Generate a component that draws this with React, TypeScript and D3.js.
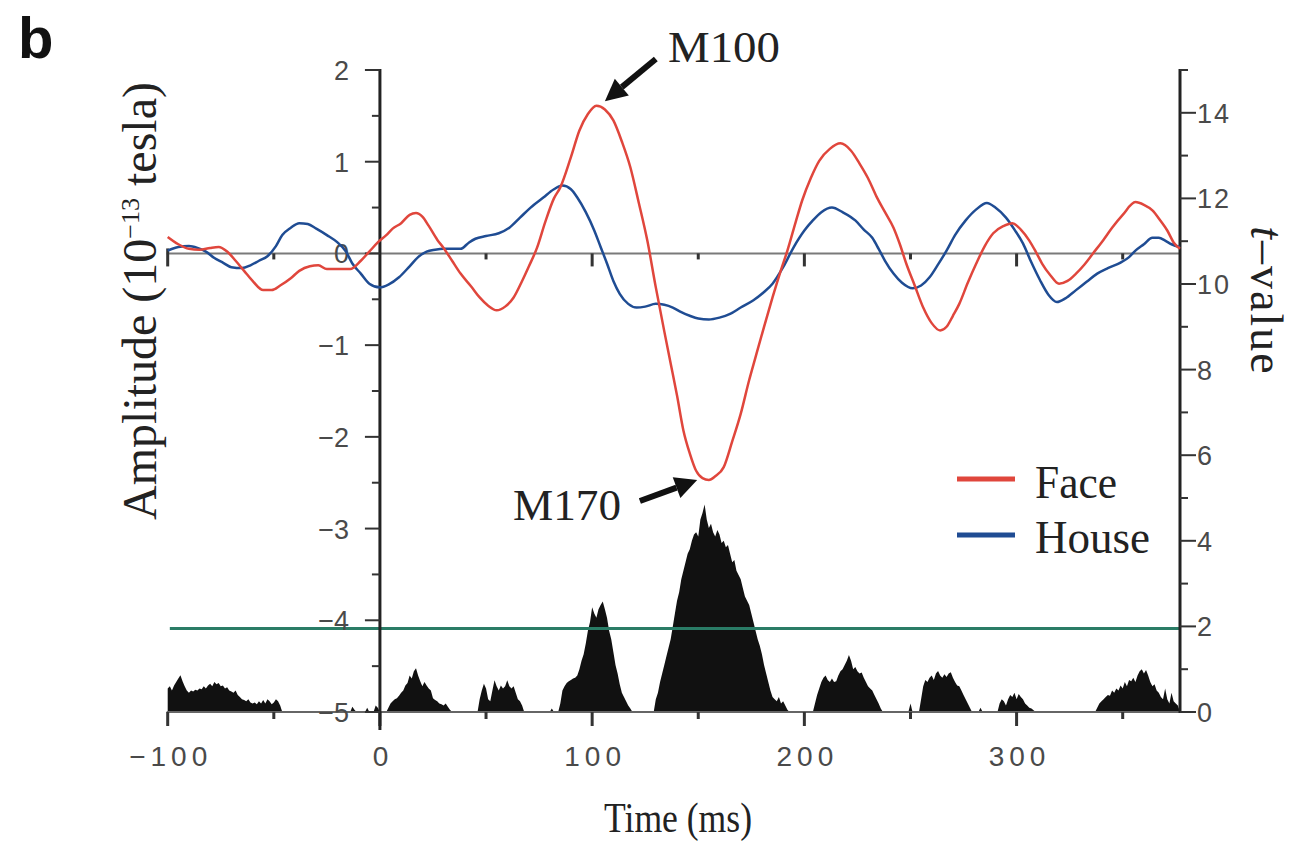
import React from "react";
import * as d3 from "d3";

const W = 1299;
const H = 845;

// evoked field, [ms, amplitude in 1e-13 T]
const faceWave: [number, number][] = [
  [-100, 0.18], [-95, 0.1], [-90, 0.05], [-85, 0.04], [-80, 0.06], [-76, 0.07], [-72, 0.02],
  [-68, -0.08], [-64, -0.19], [-60, -0.3], [-55, -0.4], [-51, -0.4], [-47, -0.35], [-42, -0.27],
  [-38, -0.19], [-33, -0.14], [-29, -0.13], [-25, -0.17], [-20, -0.17], [-14, -0.17], [-9, -0.08],
  [-5, 0.02], [-1, 0.12], [3, 0.2], [6, 0.27], [10, 0.33], [14, 0.42], [17, 0.44], [20, 0.4],
  [23, 0.3], [27, 0.15], [30, 0.06], [34, -0.08], [38, -0.22], [43, -0.36], [47, -0.48],
  [51, -0.57], [55, -0.62], [59, -0.58], [63, -0.48], [67, -0.3], [70, -0.15], [74, 0.06],
  [78, 0.35], [82, 0.6], [85, 0.72], [90, 1.05], [94, 1.34], [98, 1.52], [102, 1.61], [106, 1.57],
  [110, 1.45], [114, 1.22], [118, 0.94], [122, 0.55], [126, 0.14], [130, -0.37], [134, -0.85],
  [137, -1.2], [140, -1.55], [143, -1.93], [146, -2.18], [149, -2.37], [152, -2.45], [155, -2.47],
  [158, -2.43], [162, -2.33], [166, -2.05], [170, -1.75], [174, -1.38], [177, -1.13], [181, -0.8],
  [185, -0.48], [189, -0.18], [192, 0.03], [196, 0.35], [199, 0.58], [203, 0.82], [207, 1.01],
  [212, 1.14], [217, 1.2], [222, 1.12], [226, 0.98], [230, 0.82], [234, 0.62], [238, 0.45],
  [242, 0.28], [245, 0.1], [248, -0.11], [252, -0.35], [256, -0.59], [260, -0.76], [264, -0.84],
  [267, -0.8], [270, -0.68], [273, -0.55], [277, -0.32], [281, -0.11], [285, 0.08], [289, 0.22],
  [294, 0.3], [298, 0.33], [302, 0.26], [306, 0.14], [309, 0.02], [312, -0.11], [316, -0.24],
  [320, -0.33], [324, -0.3], [328, -0.22], [332, -0.12], [336, 0.0], [341, 0.15], [345, 0.28],
  [350, 0.42], [356, 0.56], [360, 0.53], [364, 0.47], [368, 0.35], [371, 0.25], [374, 0.12],
  [377, 0.05],
];

const houseWave: [number, number][] = [
  [-100, 0.03], [-95, 0.07], [-90, 0.08], [-86, 0.06], [-82, 0.02], [-78, -0.05], [-74, -0.1],
  [-70, -0.15], [-65, -0.16], [-61, -0.13], [-57, -0.08], [-53, -0.03], [-49, 0.08], [-46, 0.2],
  [-42, 0.28], [-38, 0.33], [-34, 0.32], [-30, 0.27], [-25, 0.2], [-20, 0.12], [-16, 0.02],
  [-13, -0.11], [-9, -0.22], [-5, -0.33], [0, -0.37], [4, -0.34], [9, -0.26], [14, -0.14],
  [18, -0.04], [22, 0.02], [26, 0.04], [30, 0.05], [34, 0.05], [38, 0.05], [42, 0.12], [45, 0.16],
  [50, 0.19], [56, 0.22], [61, 0.28], [66, 0.39], [71, 0.5], [77, 0.61], [82, 0.7], [86, 0.74],
  [90, 0.7], [93, 0.61], [97, 0.45], [101, 0.25], [104, 0.07], [107, -0.11], [110, -0.3],
  [113, -0.44], [117, -0.55], [121, -0.59], [125, -0.58], [130, -0.55], [134, -0.56], [138, -0.59],
  [142, -0.64], [146, -0.68], [150, -0.71], [155, -0.72], [160, -0.7], [165, -0.66], [170, -0.59],
  [176, -0.51], [181, -0.42], [185, -0.33], [190, -0.15], [195, 0.07], [200, 0.25], [204, 0.36],
  [208, 0.45], [213, 0.5], [218, 0.45], [224, 0.36], [228, 0.26], [232, 0.17], [235, 0.05],
  [238, -0.08], [242, -0.22], [246, -0.32], [251, -0.38], [255, -0.35], [259, -0.26], [263, -0.12],
  [267, 0.03], [271, 0.2], [276, 0.36], [281, 0.48], [286, 0.55], [290, 0.5], [295, 0.39],
  [299, 0.26], [303, 0.11], [307, -0.1], [311, -0.29], [315, -0.45], [319, -0.53], [323, -0.49],
  [328, -0.4], [333, -0.31], [338, -0.22], [343, -0.16], [349, -0.1], [353, -0.04], [356, 0.03],
  [360, 0.1], [364, 0.17], [367, 0.17], [370, 0.14], [373, 0.1], [377, 0.07],
];

// t-value clusters: first ms of each, then one value per ms
const tStarts = [-100, -14, -7, -3, 3, 46, 80, 129, 204, 249, 254, 282, 291, 337];
const tClusters: number[][] = [
  [0.55, 0.6, 0.5, 0.62, 0.7, 0.78, 0.86, 0.72, 0.6, 0.5, 0.45, 0.5, 0.48, 0.52, 0.5, 0.55, 0.53,
    0.6, 0.55, 0.62, 0.66, 0.6, 0.7, 0.65, 0.68, 0.6, 0.62, 0.55, 0.58, 0.5, 0.48, 0.45, 0.5, 0.4,
    0.35, 0.3, 0.28, 0.25, 0.3, 0.22, 0.2, 0.22, 0.18, 0.25, 0.2, 0.28, 0.2, 0.3, 0.25, 0.18, 0.22,
    0.3, 0.25, 0.15, 0],
  [0, 0.12, 0.05, 0],
  [0, 0.1, 0],
  [0, 0.15, 0.1, 0],
  [0, 0.1, 0.2, 0.25, 0.3, 0.32, 0.38, 0.45, 0.5, 0.62, 0.68, 0.85, 0.78, 0.95, 1.02, 0.85, 0.72,
    0.6, 0.7, 0.62, 0.55, 0.5, 0.32, 0.28, 0.25, 0.2, 0.18, 0.15, 0.2, 0.12, 0.05, 0],
  [0, 0.3, 0.5, 0.66, 0.55, 0.3, 0.25, 0.5, 0.74, 0.6, 0.5, 0.62, 0.55, 0.6, 0.74, 0.6, 0.55, 0.6,
    0.45, 0.3, 0.25, 0.15, 0],
  [0, 0.08, 0, 0, 0, 0.2, 0.5, 0.6, 0.68, 0.72, 0.75, 0.78, 0.8, 0.85, 1.0, 1.2, 1.35, 1.6, 1.9,
    2.1, 2.45, 2.3, 2.2, 2.4, 2.5, 2.58, 2.4, 2.2, 1.9, 1.7, 1.4, 1.1, 0.9, 0.65, 0.45, 0.35, 0.25,
    0.15, 0.08, 0],
  [0, 0.3, 0.45, 0.7, 0.9, 1.1, 1.3, 1.5, 1.7, 2.0, 2.3, 2.6, 2.8, 3.1, 3.3, 3.5, 3.7, 3.8, 4.0,
    4.15, 4.2, 4.1, 4.5, 4.65, 4.85, 4.5, 4.3, 4.4, 4.2, 4.1, 4.25, 4.15, 3.95, 4.0, 3.85, 3.9, 3.7,
    3.5, 3.55, 3.3, 3.2, 3.1, 2.9, 2.7, 2.6, 2.5, 2.3, 2.1, 1.9, 1.7, 1.55, 1.35, 1.1, 0.9, 0.7,
    0.5, 0.35, 0.3, 0.25, 0.35, 0.2, 0.25, 0.15, 0.05, 0],
  [0, 0.2, 0.4, 0.55, 0.7, 0.8, 0.85, 0.75, 0.7, 0.78, 0.7, 0.72, 0.85, 0.95, 1.0, 1.1, 1.2, 1.33,
    1.2, 1.0, 1.05, 0.95, 0.9, 0.92, 0.8, 0.7, 0.6, 0.55, 0.5, 0.4, 0.3, 0.2, 0.08, 0],
  [0, 0.2, 0],
  [0, 0.3, 0.6, 0.75, 0.7, 0.8, 0.85, 0.75, 0.9, 0.96, 0.85, 0.8, 0.88, 0.82, 0.9, 0.93, 0.8,
    0.7, 0.62, 0.6, 0.5, 0.4, 0.3, 0.2, 0.1, 0],
  [0, 0.1, 0],
  [0, 0.2, 0.3, 0.25, 0.15, 0.3, 0.4, 0.35, 0.45, 0.3, 0.42, 0.35, 0.3, 0.2, 0.15, 0.1, 0.08,
    0.04, 0],
  [0, 0.1, 0.2, 0.25, 0.3, 0.35, 0.4, 0.38, 0.5, 0.45, 0.55, 0.5, 0.62, 0.55, 0.7, 0.6, 0.75,
    0.72, 0.8, 0.7, 0.85, 0.95, 1.0, 0.9, 0.98, 0.85, 0.7, 0.6, 0.65, 0.5, 0.45, 0.35, 0.3, 0.55,
    0.3, 0.2, 0.45, 0.25, 0.2, 0.15, 0],
];
const tThreshold = 1.95;

const timeTicks = [-100, 0, 100, 200, 300];
const timeMinorTicks = [-50, 50, 150, 250, 350];
const ampTicks = [2, 1, 0, -1, -2, -3, -4, -5];
const ampMinorTicks = [1.5, 0.5, -0.5, -1.5, -2.5, -3.5, -4.5];
const tTicks = [0, 2, 4, 6, 8, 10, 12, 14];
const tMinorTicks = [1, 3, 5, 7, 9, 11, 13, 15];

const legendItems = [
  { label: "Face", color: "#e0463c" },
  { label: "House", color: "#1f4c93" },
];

// arrows in data units: [tail ms, tail amp, tip ms, tip amp]
const annotations = [
  { label: "M100", tail: [130, 2.12], tip: [106, 1.66], tx: 668, ty: 62, len: 112 },
  { label: "M170", tail: [122.5, -2.7], tip: [149.5, -2.47], tx: 513, ty: 520, len: 108 },
];

const SERIF = "'Liberation Serif', 'Times New Roman', serif";
const SANS = "'Liberation Sans', Arial, sans-serif";
const TICK_COLOR = "#4a4a4a";

const x = d3.scaleLinear().domain([-100, 377]).range([167.7, 1180]);
const yA = d3.scaleLinear().domain([-5, 2]).range([712, 70]);
const yT = d3.scaleLinear().domain([0, 15]).range([712, 70]);

const waveLine = d3
  .line<[number, number]>()
  .x((d) => x(d[0]))
  .y((d) => yA(d[1]))
  .curve(d3.curveMonotoneX);

const tArea = d3
  .area<[number, number]>()
  .x((d) => x(d[0]))
  .y0(yT(0))
  .y1((d) => yT(d[1]));

function arrowHead(x0: number, y0: number, x1: number, y1: number) {
  const dx = x1 - x0;
  const dy = y1 - y0;
  const L = Math.hypot(dx, dy);
  const ux = dx / L;
  const uy = dy / L;
  const hl = 22;
  const hw = 11;
  const bx = x1 - ux * hl;
  const by = y1 - uy * hl;
  return {
    shaftEnd: [bx, by],
    points: `${x1},${y1} ${bx - uy * hw},${by + ux * hw} ${bx + uy * hw},${by - ux * hw}`,
  };
}

export default function App() {
  const zeroY = yA(0);
  const axisBottom = yT(0);
  const leftX = x(0);
  const rightX = x(377);

  return (
    <svg
      width={W}
      height={H}
      style={{ position: "absolute", left: 0, top: 0, background: "#fff" }}
    >
      {/* panel letter */}
      <text x={18} y={58} fontFamily={SANS} fontWeight="bold" fontSize={58} fill="#111">
        b
      </text>

      {/* t-value histogram */}
      {tClusters.map((vals, i) => (
        <path
          key={i}
          d={tArea(vals.map((v, j) => [tStarts[i] + j, v] as [number, number])) || ""}
          fill="#111"
        />
      ))}

      {/* threshold */}
      <line
        x1={x(-99)}
        x2={rightX}
        y1={yT(tThreshold)}
        y2={yT(tThreshold)}
        stroke="#2a7c66"
        strokeWidth={3}
      />

      {/* bottom time axis */}
      <line x1={x(-100) - 1} x2={rightX} y1={axisBottom} y2={axisBottom} stroke="#666" strokeWidth={2} />
      {timeTicks.map((t) => (
        <line key={t} x1={x(t)} x2={x(t)} y1={axisBottom} y2={axisBottom + 14} stroke="#333" strokeWidth={3} />
      ))}
      {timeMinorTicks.map((t) => (
        <line key={t} x1={x(t)} x2={x(t)} y1={axisBottom} y2={axisBottom + 7} stroke="#333" strokeWidth={3} />
      ))}
      {timeTicks.map((t) => (
        <text
          key={t}
          x={x(t) + 3}
          y={766}
          textAnchor="middle"
          fontFamily={SANS}
          fontSize={28}
          letterSpacing={5}
          fill={TICK_COLOR}
        >
          {t < 0 ? `\u2212${-t}` : t}
        </text>
      ))}

      {/* zero line with ticks */}
      <line x1={x(-100) - 1} x2={rightX} y1={zeroY} y2={zeroY} stroke="#7a7a7a" strokeWidth={2} />
      <line x1={x(-100)} x2={x(-100)} y1={zeroY - 5} y2={zeroY + 13} stroke="#333" strokeWidth={3} />
      {timeTicks.filter((t) => t > 0).map((t) => (
        <line key={t} x1={x(t)} x2={x(t)} y1={zeroY} y2={zeroY + 13} stroke="#333" strokeWidth={3} />
      ))}
      {timeMinorTicks.map((t) => (
        <line key={t} x1={x(t)} x2={x(t)} y1={zeroY} y2={zeroY + 6} stroke="#333" strokeWidth={3} />
      ))}

      {/* left amplitude axis */}
      <line x1={leftX} x2={leftX} y1={yA(2) - 1} y2={axisBottom + 18} stroke="#222" strokeWidth={3} />
      {ampTicks.map((a) => (
        <line key={a} x1={leftX - 15} x2={leftX} y1={yA(a)} y2={yA(a)} stroke="#333" strokeWidth={2} />
      ))}
      {ampMinorTicks.map((a) => (
        <line key={a} x1={leftX - 8} x2={leftX} y1={yA(a)} y2={yA(a)} stroke="#333" strokeWidth={2} />
      ))}
      {ampTicks.map((a) => (
        <text
          key={a}
          x={leftX - 31}
          y={yA(a) + 10}
          textAnchor="end"
          fontFamily={SANS}
          fontSize={27}
          fill={TICK_COLOR}
        >
          {a < 0 ? `\u2212${-a}` : a}
        </text>
      ))}

      {/* right t-value axis */}
      <line x1={rightX} x2={rightX} y1={yT(15) - 1} y2={axisBottom + 1} stroke="#222" strokeWidth={3} />
      {tTicks.map((t) => (
        <line key={t} x1={rightX} x2={rightX + 16} y1={yT(t)} y2={yT(t)} stroke="#333" strokeWidth={2} />
      ))}
      {tMinorTicks.map((t) => (
        <line key={t} x1={rightX} x2={rightX + 8} y1={yT(t)} y2={yT(t)} stroke="#333" strokeWidth={2} />
      ))}
      {tTicks.map((t) => (
        <text
          key={t}
          x={rightX + 17}
          y={yT(t) + 10}
          fontFamily={SANS}
          fontSize={27}
          letterSpacing={2}
          fill={TICK_COLOR}
        >
          {t}
        </text>
      ))}

      {/* waves */}
      <path d={waveLine(houseWave) || ""} fill="none" stroke="#1f4c93" strokeWidth={2.5} strokeLinejoin="round" />
      <path d={waveLine(faceWave) || ""} fill="none" stroke="#e0463c" strokeWidth={2.5} strokeLinejoin="round" />

      {/* legend */}
      {legendItems.map((d, i) => (
        <g key={d.label}>
          <line x1={957} x2={1015} y1={479 + i * 56} y2={479 + i * 56} stroke={d.color} strokeWidth={5} />
          <text
            x={1035}
            y={498 + i * 55}
            fontFamily={SERIF}
            fontSize={46}
            textLength={i === 0 ? 82 : 115}
            lengthAdjust="spacingAndGlyphs"
            fill="#222"
          >
            {d.label}
          </text>
        </g>
      ))}

      {/* peak annotations */}
      {annotations.map((a) => {
        const x0 = x(a.tail[0]);
        const y0 = yA(a.tail[1]);
        const x1 = x(a.tip[0]);
        const y1 = yA(a.tip[1]);
        const h = arrowHead(x0, y0, x1, y1);
        return (
          <g key={a.label}>
            <line x1={x0} y1={y0} x2={h.shaftEnd[0]} y2={h.shaftEnd[1]} stroke="#111" strokeWidth={6} />
            <polygon points={h.points} fill="#111" />
            <text
              x={a.tx}
              y={a.ty}
              fontFamily={SERIF}
              fontSize={45}
              textLength={a.len}
              lengthAdjust="spacingAndGlyphs"
              fill="#222"
            >
              {a.label}
            </text>
          </g>
        );
      })}

      {/* axis titles */}
      <text
        x={678}
        y={832}
        textAnchor="middle"
        fontFamily={SERIF}
        fontSize={42}
        textLength={148}
        lengthAdjust="spacingAndGlyphs"
        fill="#222"
      >
        Time (ms)
      </text>
      <text
        transform="translate(156,301) rotate(-90)"
        textAnchor="middle"
        fontFamily={SERIF}
        fontSize={48}
        fill="#222"
      >
        <tspan>Amplitude (10</tspan>
        <tspan dy={-17} fontSize={26}>{"\u221213"}</tspan>
        <tspan dy={17}> tesla)</tspan>
      </text>
      <text
        transform="translate(1251,301) rotate(90)"
        textAnchor="middle"
        fontFamily={SERIF}
        fontSize={46}
        letterSpacing={2}
        fill="#222"
      >
        <tspan fontStyle="italic">t</tspan>
        <tspan>{"\u2013value"}</tspan>
      </text>
    </svg>
  );
}
